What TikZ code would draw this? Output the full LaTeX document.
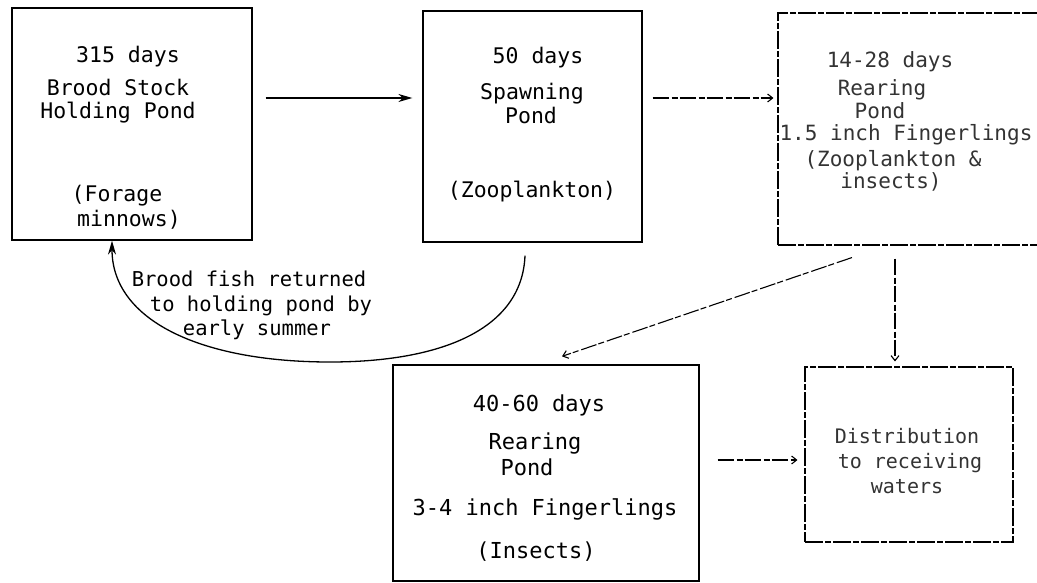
\documentclass[tikz,border=0pt]{standalone}
\usepackage{fontspec}
\setmonofont{DejaVu Sans Mono}
\usetikzlibrary{arrows.meta,calc}
\begin{document}
\begin{tikzpicture}[x=1pt,y=-1pt,
  pbox/.style={draw, line width=1.3pt, inner sep=0pt},
  lbox/.style={draw, line width=1.1pt, inner sep=0pt, dash pattern=on 18pt off 2pt on 6pt off 2pt},
  txt/.style={anchor=base, inner sep=0pt, font=\ttfamily\fontsize{21.5}{25}\selectfont},
  txtb/.style={txt, font=\ttfamily\fontsize{22}{26}\selectfont},
  txtl/.style={txt, text=black!80, font=\ttfamily\fontsize{21}{25}\selectfont},
  txts/.style={txt, text=black!80, font=\ttfamily\fontsize{20}{24}\selectfont},
  txtc/.style={txt, font=\ttfamily\fontsize{20.5}{24}\selectfont},
  solidarrow/.style={line width=1.3pt, -{Stealth[length=14pt,width=8pt]}},
  lightarrow/.style={line width=1.1pt, dash pattern=on 16pt off 3pt on 6pt off 2pt, -{Straight Barb[length=5pt,width=8pt]}}
]
\useasboundingbox (0,0) rectangle (1037,583);
\clip (0,0) rectangle (1037,583);
\fill[white] (0,0) rectangle (1037,583);

% boxes
\node[pbox, minimum width=240pt, minimum height=232pt] (b1) at (132,124) {};
\node[pbox, minimum width=219pt, minimum height=231pt] (b2) at (532.5,126.5) {};
\node[lbox, minimum width=267pt, minimum height=232pt] (b3) at (911.5,129) {};
\node[pbox, minimum width=306pt, minimum height=216pt] (b4) at (546,473) {};
\node[lbox, minimum width=208pt, minimum height=175pt] (b5) at (909,454.5) {};

% box 1 text
\node[txt] (t11) at (128,63) {315 days};
\node[txt] (t12) at (118,96) {Brood Stock};
\node[txt] (t13) at (118,119) {Holding Pond};
\node[txt] (t14) at (117,201) {(Forage};
\node[txt] (t15) at (129,226) {minnows)};

% box 2 text
\node[txt] (t21) at (538,64) {50 days};
\node[txt] (t22) at (532,100) {Spawning};
\node[txt] (t23) at (531,124) {Pond};
\node[txt] (t24) at (532,198) {(Zooplankton)};

% box 3 text
\node[txtl] (t31) at (890,68) {14-28 days};
\node[txtl] (t32) at (882,96) {Rearing};
\node[txtl] (t33) at (880,119) {Pond};
\node[txtl] (t34) at (906,141) {1.5 inch Fingerlings};
\node[txtl] (t35) at (893,167) {(Zooplankton \&};
\node[txtl] (t36) at (891,189) {insects)};

% box 4 text
\node[txtb] (t41) at (539,411) {40-60 days};
\node[txtb] (t42) at (535,449) {Rearing};
\node[txtb] (t43) at (527,475) {Pond};
\node[txtb] (t44) at (545,515) {3-4 inch Fingerlings};
\node[txtb] (t45) at (536,558) {(Insects)};

% box 5 text
\node[txts] (t51) at (907,443) {Distribution};
\node[txts] (t52) at (910,468) {to receiving};
\node[txts] (t53) at (907,493) {waters};

% curve label
\node[txtc] (c1) at (249,286) {Brood fish returned};
\node[txtc] (c2) at (261,311) {to holding pond by};
\node[txtc] (c3) at (257,335) {early summer};

% helper coordinates
\coordinate (ya) at (0,98);
\coordinate (yb) at (0,460);
\coordinate (cb) at (330,362);

% connectors
\draw[solidarrow, shorten <=13pt, shorten >=10pt] (b1.east |- ya) -- (b2.west |- ya);
\draw[lightarrow, shorten <=10pt, shorten >=4pt] (b2.east |- ya) -- (b3.west |- ya);
\draw[lightarrow] ($(b3.south)+(-59.5,12)$) -- ($(b4.north)+(16,-8)$);
\draw[lightarrow] ($(b3.south)+(-16.5,13)$) -- ($(b5.north)+(-14,-5)$);
\draw[lightarrow, shorten <=18pt, shorten >=7pt] (b4.east |- yb) -- (b5.west |- yb);
\draw[solidarrow] ($(b2.south)+(-7.5,13)$) .. controls (522,330) and (440,362) .. (cb)
  .. controls (200,362) and (112,320) .. ($(b1.south)+(-20,0)$);
\end{tikzpicture}
\end{document}
